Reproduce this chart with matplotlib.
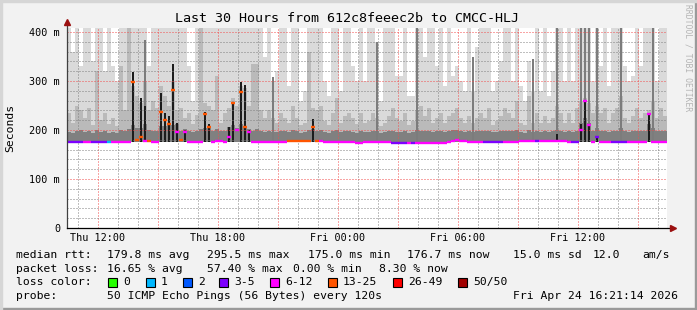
import numpy as np
import matplotlib
matplotlib.use("Agg")
import matplotlib.pyplot as plt
from matplotlib.ticker import MultipleLocator, FuncFormatter
from matplotlib.lines import Line2D
from matplotlib.patches import Rectangle

# ---------------- data (ms), 150 bins of 12 minutes starting Thu 10:27 ----------------
smoke_max = [
    408,360,408,330,408,408,340,408,408,320,408,330,300,408,408,408,408,408,408,408,330,408,408,408,408,
    408,408,408,408,408,330,260,408,408,408,408,408,408,408,408,408,408,408,408,408,408,408,408,408,350,
    408,300,320,408,408,290,408,408,260,280,408,408,408,408,300,270,408,408,280,408,408,330,300,408,300,
    408,408,380,260,408,408,408,310,310,408,270,270,408,408,350,408,408,330,408,290,408,310,330,300,280,
    408,280,370,408,408,408,280,300,340,408,408,300,408,290,260,340,280,408,280,408,270,320,408,408,300,
    408,300,408,408,408,408,300,408,330,408,290,408,408,408,330,300,310,408,330,408,408,408,300,408,408]
smoke_hi = [
    235,215,250,240,225,245,210,320,220,235,212,225,208,330,240,408,290,270,255,300,240,260,245,290,270,
    250,300,240,245,225,235,212,230,408,255,250,240,310,215,235,245,265,250,290,285,250,335,335,240,225,
    240,225,215,235,225,215,250,225,210,215,360,245,240,250,218,210,235,265,215,228,235,225,212,235,215,
    218,235,225,208,215,228,245,225,218,235,210,218,240,250,228,245,215,225,235,215,228,235,245,225,215,
    228,215,225,235,225,245,210,218,228,245,235,225,260,215,210,270,215,235,215,228,215,225,250,235,215,
    235,215,245,260,265,255,235,250,235,245,215,235,245,270,225,215,228,245,225,235,240,260,225,245,228]
smoke_lo = [
    196,194,198,200,196,197,194,199,196,198,194,196,194,199,198,202,210,205,205,212,200,198,198,208,208,
    212,210,212,198,202,198,195,198,202,205,206,198,202,198,198,206,210,205,212,208,202,198,202,198,195,
    198,196,196,198,197,196,199,197,194,196,200,202,198,199,196,194,197,200,196,197,198,196,194,197,196,
    196,197,197,194,196,197,198,196,196,197,194,196,200,198,197,198,196,197,197,195,197,199,200,197,196,
    197,196,197,197,197,198,195,196,197,198,197,197,199,196,194,200,196,197,196,197,196,197,200,197,196,
    197,196,198,215,225,215,197,205,197,198,196,197,198,205,197,196,197,198,197,197,212,205,197,198,197]
streak_top = [
    0,0,0,0,0,0,0,0,0,0,0,0,0,0,0,0,0,0,0,383,0,0,0,275,0,
    0,0,0,0,0,0,0,0,0,0,0,0,0,0,0,0,0,0,0,0,0,0,0,0,0,
    0,308,0,0,0,0,0,0,0,0,0,0,0,0,0,0,0,0,0,0,0,0,0,0,0,
    0,0,380,0,0,0,0,0,0,0,0,0,408,0,0,0,0,0,0,0,0,0,0,0,0,
    0,350,0,0,0,0,0,0,0,0,0,0,0,0,0,0,345,0,0,0,0,0,408,0,0,
    0,0,0,408,408,408,0,408,0,0,0,0,0,408,0,0,0,0,0,0,0,408,0,0,0]
smoke_core = [
    0,0,0,0,0,0,0,0,0,0,0,0,0,0,0,0,318,0,265,250,0,0,0,275,235,
    228,335,215,0,200,0,0,0,0,237,213,0,0,0,0,206,257,0,298,291,200,0,0,0,0,
    0,0,0,0,0,0,0,0,0,0,0,222,0,0,0,0,0,0,0,0,0,0,0,0,0,
    0,0,0,0,0,0,0,0,0,0,0,0,0,0,0,0,0,0,0,0,0,0,0,0,0,
    0,0,0,0,0,0,0,0,0,0,0,0,0,0,0,0,0,0,0,0,0,0,192,0,0,
    0,0,0,212,262,212,0,188,0,0,0,0,0,0,0,0,0,0,0,0,235,0,0,0,0]
median_rtt = [
    176,176,176,175,175,176,176,176,176,176,176,176,176,176,176,176,298,180,186,178,177,176,176,237,220,
    213,281,196,180,195,176,176,176,176,233,206,176,177,177,176,186,256,199,278,206,196,176,176,176,176,
    176,176,176,176,176,177,177,177,177,177,177,206,178,177,176,176,176,176,176,176,176,175,174,174,175,
    175,175,175,175,175,175,174,174,174,174,174,174,174,174,174,174,174,174,174,174,175,178,180,177,177,
    175,175,175,175,175,175,175,175,175,175,175,175,176,177,177,177,177,177,177,177,177,177,177,177,177,
    176,176,175,200,260,210,176,186,176,176,176,175,175,175,175,176,176,176,176,176,233,176,176,176,176]
lost_pings = [
    4,4,5,4,8,7,4,5,4,5,1,8,7,8,8,9,15,14,14,9,13,8,8,16,15,
    15,15,8,14,8,8,8,8,7,14,14,8,8,9,8,8,15,8,16,15,9,8,8,8,8,
    8,8,8,8,9,13,14,13,13,13,14,16,13,8,8,8,8,9,8,8,8,8,9,9,8,
    8,8,8,8,8,8,4,4,5,4,8,4,8,8,8,8,8,8,8,8,8,8,8,8,8,
    8,8,8,8,4,4,4,4,4,8,8,8,8,8,8,8,8,4,8,8,8,8,8,8,8,
    8,4,4,8,8,8,8,5,8,8,8,4,4,4,4,8,8,8,8,8,8,8,8,8,8]

rtt_min_ms = 175.0
start_hour = 10.45      # Thu 10:27, hours since Thu 00:00
bin_hours = 0.2
span_hours = 30

loss_upper = [0, 1, 2, 5, 12, 25, 49, 50]
loss_labels = ["0", "1", "2", "3-5", "6-12", "13-25", "26-49", "50/50"]
loss_colors = ["#26ff00", "#00b8ff", "#0059ff", "#7e00ff", "#ff00ff", "#ff5500", "#ff0000", "#a10000"]

x_tick_labels = {12: "Thu 12:00", 18: "Thu 18:00", 24: "Fri 00:00", 30: "Fri 06:00", 36: "Fri 12:00"}
y_tick_labels = {0: "0", 100: "100 m", 200: "200 m", 300: "300 m", 400: "400 m"}

stats_rows = [
    [("median rtt:", 16), ("179.8 ms avg", 107), ("295.5 ms max", 207), ("175.0 ms min", 308),
     ("176.7 ms now", 407), ("15.0 ms sd", 513), ("12.0", 593), ("am/s", 642)],
    [("packet loss:", 16), ("16.65 % avg", 107), ("57.40 % max", 207), ("0.00 % min", 293),
     ("8.30 % now", 379)],
]
probe_row = [("probe:", 16), ("50 ICMP Echo Pings (56 Bytes) every 120s", 107),
             ("Fri Apr 24 16:21:14 2026", 513)]
loss_box_x = [108, 146, 183, 219, 270, 328, 393, 458]

# ---------------- figure ----------------
W, H = 697, 310
mono = "DejaVu Sans Mono"
fig = plt.figure(figsize=(W / 100, H / 100), dpi=100, facecolor="#f2f2f2")
ax = fig.add_axes([67 / W, (H - 228) / H, 600 / W, 200 / H])
ax.set_facecolor("white")
ax.set_xlim(start_hour, start_hour + span_hours)
ax.set_ylim(0, 200 / 0.49)

t = start_hour + bin_hours * np.arange(len(smoke_max))
smax = np.array(smoke_max, float)
shi = np.array(smoke_hi, float)
slo = np.array(smoke_lo, float)
sstreak = np.array(streak_top, float)
score = np.array(smoke_core, float)
med = np.array(median_rtt, float)

def layer(top, color, z, frac=1.0):
    m = top > rtt_min_ms
    w = bin_hours * frac
    ax.bar(t[m] + (bin_hours - w) / 2, top[m] - rtt_min_ms, bottom=rtt_min_ms, width=w,
           align="edge", color=color, linewidth=0, zorder=z)

layer(smax, "#dadada", 1.0)
layer(shi, "#bababa", 1.1)
layer(slo, "#808080", 1.2)
layer(sstreak, "#7c7c7c", 1.25, frac=0.55)
layer(score, "#1c1c1c", 1.3, frac=0.7)

def loss_color(n):
    for ub, c in zip(loss_upper, loss_colors):
        if n <= ub:
            return c
    return loss_colors[-1]

ax.hlines(med, t, t + bin_hours, colors=[loss_color(v) for v in lost_pings],
          linewidth=1.7, zorder=3)

# grid
ax.xaxis.set_major_locator(MultipleLocator(3))
ax.xaxis.set_minor_locator(MultipleLocator(1))
ax.yaxis.set_major_locator(MultipleLocator(100))
ax.yaxis.set_minor_locator(MultipleLocator(20))
ax.set_axisbelow(False)
ax.grid(which="minor", color=(0.5, 0.5, 0.5, 0.35), linestyle=(0, (1, 2)), linewidth=0.72)
ax.grid(which="major", color=(0.95, 0.3, 0.3, 0.55), linestyle=(0, (1, 2)), linewidth=0.72)
ax.xaxis.set_major_formatter(FuncFormatter(lambda v, p: x_tick_labels.get(int(round(v)), "")))
ax.yaxis.set_major_formatter(FuncFormatter(lambda v, p: y_tick_labels.get(int(round(v)), "")))
ax.tick_params(which="both", length=0)
ax.tick_params(axis="y", pad=5.0, labelsize=7.3)
ax.tick_params(axis="x", pad=3.6, labelsize=7.3)
for lab in ax.get_xticklabels() + ax.get_yticklabels():
    lab.set_family(mono)
for s in ax.spines.values():
    s.set_visible(False)

# axis lines with arrows
ax.add_line(Line2D([0, 0], [0, 1.025], transform=ax.transAxes, color="#404040",
                   linewidth=0.9, clip_on=False, zorder=4))
ax.add_line(Line2D([0, 1.008], [0, 0], transform=ax.transAxes, color="black",
                   linewidth=0.9, clip_on=False, zorder=4))
ax.plot([0], [1.03], marker="^", markersize=5, color="#9b1010", transform=ax.transAxes,
        clip_on=False, zorder=5)
ax.plot([1.01], [0], marker=">", markersize=5, color="#9b1010", transform=ax.transAxes,
        clip_on=False, zorder=5)

def ftext(x, y, s, **kw):
    fig.text(x / W, 1 - y / H, s, **kw)

ftext(347, 19, "Last 30 Hours from 612c8feeec2b to CMCC-HLJ", ha="center", va="center",
      family=mono, fontsize=9.6, color="black")
ftext(10, 128, "Seconds", ha="center", va="center", rotation=90, family=mono, fontsize=8.2)
ftext(688, 58, "RRDTOOL / TOBI OETIKER", ha="center", va="center", rotation=-90,
      family=mono, fontsize=5.8, color="#b4b4b4")

fs_leg = 8.2
row_y = [255, 268.5, 282, 296]
for (rowv, y) in zip(stats_rows, row_y[:2]):
    for s, x in rowv:
        ftext(x, y, s, ha="left", va="center", family=mono, fontsize=fs_leg)
ftext(16, row_y[2], "loss color:", ha="left", va="center", family=mono, fontsize=fs_leg)
for bx, lab, col in zip(loss_box_x, loss_labels, loss_colors):
    fig.patches.append(Rectangle((bx / W, 1 - (row_y[2] + 4.5) / H), 9 / W, 9 / H,
                                 transform=fig.transFigure, facecolor=col,
                                 edgecolor="black", linewidth=0.8))
    ftext(bx + 15, row_y[2], lab, ha="left", va="center", family=mono, fontsize=fs_leg)
for s, x in probe_row:
    ftext(x, row_y[3], s, ha="left", va="center", family=mono, fontsize=fs_leg)

# frame
fig.patches.append(Rectangle((0, 0), 1, 2 / H, transform=fig.transFigure, color="#9a9a9a"))
fig.patches.append(Rectangle((1 - 2 / W, 0), 2 / W, 1, transform=fig.transFigure, color="#9a9a9a"))
fig.patches.append(Rectangle((0, 1 - 2 / H), 1, 2 / H, transform=fig.transFigure, color="#d6d6d6"))
fig.patches.append(Rectangle((0, 0), 2 / W, 1, transform=fig.transFigure, color="#d6d6d6"))

fig.savefig("out.png", dpi=100, facecolor=fig.get_facecolor())
